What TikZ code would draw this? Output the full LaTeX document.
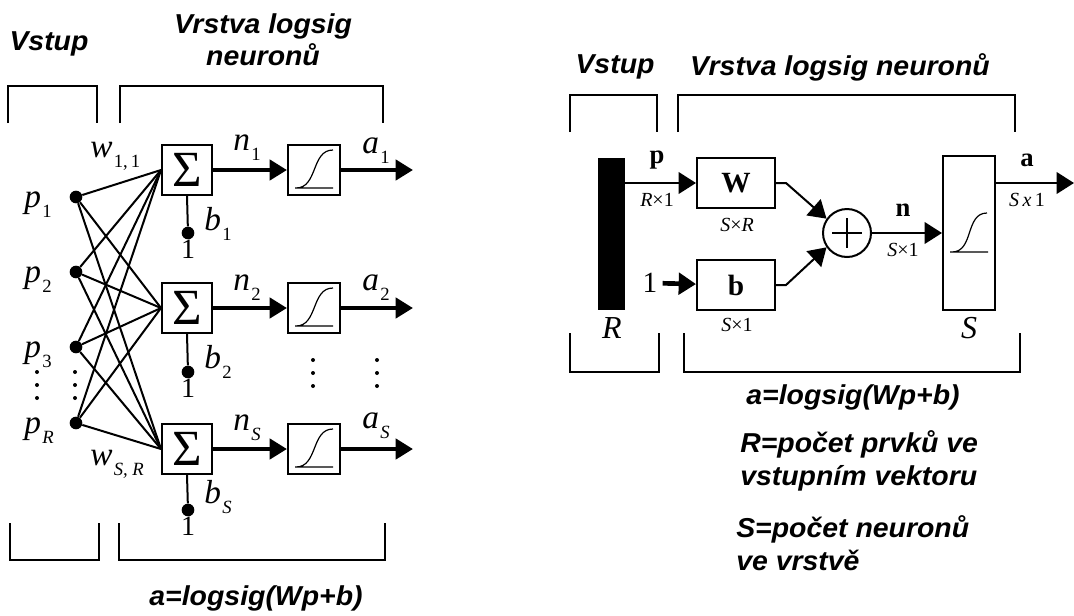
\documentclass[tikz,border=0pt]{standalone}
\usepackage{fontspec}
\setmainfont{Liberation Serif}
\newfontfamily\titlefont[FakeStretch=1.04]{Liberation Sans}
\usetikzlibrary{arrows.meta,positioning}

\newcommand\lsub[2]{\textit{#1}\kern1pt\raisebox{-8pt}{\fontsize{14}{14}\selectfont #2}}

\begin{document}
\begin{tikzpicture}[x=0.75pt, y=-0.75pt,
  title/.style={font=\titlefont\bfseries\itshape\fontsize{20.5}{24}\selectfont, align=center, inner sep=0},
  note/.style={font=\titlefont\bfseries\itshape\fontsize{20.5}{25}\selectfont, align=left, inner sep=0, anchor=west},
  lbl/.style={font=\fontsize{25}{25}\selectfont, inner sep=0, anchor=base west},
  bold/.style={font=\bfseries\fontsize{20}{20}\selectfont, inner sep=0},
  dim/.style={font=\fontsize{15}{15}\selectfont, inner sep=0},
  sumbox/.style={draw, line width=1.5pt, minimum size=37.5pt, inner sep=0, font=\fontsize{38}{38}\selectfont},
  tfbox/.style={draw, line width=1.5pt, minimum width=39pt, minimum height=37.5pt, inner sep=0},
  mbox/.style={draw, line width=1.5pt, minimum width=58.5pt, minimum height=37.5pt, inner sep=0},
  dot/.style={circle, fill, inner sep=0, minimum size=9.5pt},
  fan/.style={line width=1.5pt},
  brk/.style={line width=1.8pt},
  sig/.style={line width=3.5pt, -{Triangle[length=13pt, width=15pt]}},
  arr/.style={line width=2pt, -{Triangle[length=13pt, width=16pt]}},
  curve/.style={line width=0.9pt}
]
\useasboundingbox (0,0) rectangle (1074,615);

% ---- left: layer of logsig neurons
\node[title] (vstupL) at (49,44) {Vstup};
\node[title] (vrstvaL) at (263,40) {Vrstva logsig\\neuronů};
\draw[brk] (8,123) |- (97,86) -- (97,123);
\draw[brk] (120,123) |- (383,86) -- (383,123);
\draw[brk] (10,523) |- (99,560) -- (99,523);
\draw[brk] (119,523) |- (385,560) -- (385,523);
\node[title] (eqL) at (256,598) {a=logsig(Wp+b)};

\node[dot] (p1) at (76,197) {};
\node[dot] (p2) at (76,272) {};
\node[dot] (p3) at (76,347) {};
\node[dot] (pR) at (76,423) {};
\node[lbl] (lp1) at (24,207) {\lsub{p}{1}};
\node[lbl] (lp2) at (24,282) {\lsub{p}{2}};
\node[lbl] (lp3) at (24,357) {\lsub{p}{3}};
\node[lbl] (lpR) at (24,433) {\lsub{p}{\textit{R}}};
\node[lbl] (w11) at (90,157) {\lsub{w}{1,\,1}};
\node[lbl] (wSR) at (90,465) {\lsub{w}{\textit{S, R}}};

\node[sumbox] (sum1) at (187,170) {Σ};
\node[sumbox] (sum2) at (187,308) {Σ};
\node[sumbox] (sumS) at (187,449) {Σ};
\node[tfbox] (t1) at (314,170) {};
\node[tfbox] (t2) at (314,308) {};
\node[tfbox] (tS) at (314,449) {};
\coordinate (o1) at (413,170);
\coordinate (o2) at (413,308);
\coordinate (oS) at (413,449);

\foreach \i in {p1,p2,p3,pR}
  \foreach \j in {sum1,sum2,sumS}
    \draw[fan] (\i) -- (\j.west);

\foreach \j/\t/\o in {sum1/t1/o1,sum2/t2/o2,sumS/tS/oS} {
  \draw[sig] (\j) -- (\t);
  \draw[sig] (\t) -- (\o);
  \draw[curve] ([shift={(-19,18)}]\t.center) -- ([shift={(19,18)}]\t.center)
    ([shift={(-18,18)}]\t.center) .. controls +(22,0) and +(-22,0) .. ([shift={(19,-20)}]\t.center);
}

\node[dot] (b1) at (188,233) {};
\node[dot] (b2) at (188,372) {};
\node[dot] (bS) at (188,510) {};
\foreach \j/\b in {sum1/b1,sum2/b2,sumS/bS} {
  \draw[line width=1.5pt] (\j.south) -- (\b);
  \node[lbl, anchor=north, font=\fontsize{21}{21}\selectfont] at (\b.south) {1};
}
\node[lbl] (lb1) at (204,230) {\lsub{b}{1}};
\node[lbl] (lb2) at (204,368) {\lsub{b}{2}};
\node[lbl] (lbS) at (204,503) {\lsub{b}{\textit{S}}};

\node[lbl] (ln1) at (233,150) {\lsub{n}{1}};
\node[lbl] (ln2) at (233,290) {\lsub{n}{2}};
\node[lbl] (lnS) at (233,430) {\lsub{n}{\textit{S}}};
\node[lbl] (la1) at (362,153) {\lsub{a}{1}};
\node[lbl] (la2) at (362,290) {\lsub{a}{2}};
\node[lbl] (laS) at (362,428) {\lsub{a}{\textit{S}}};

\foreach \x in {37,75}
  \foreach \y in {372,385,398}
    \fill (\x,\y) circle (1.5pt);
\foreach \x in {313,377}
  \foreach \y in {360,373,386}
    \fill (\x,\y) circle (1.5pt);

% ---- right: matrix form
\node[title] (vstupR) at (615,67) {Vstup};
\node[title] (vrstvaR) at (840,67) {Vrstva logsig neuronů};
\draw[brk] (570,132) |- (657,95) -- (657,132);
\draw[brk] (678,132) |- (1015,95) -- (1015,132);
\draw[brk] (570,333) |- (659,372) -- (659,333);
\draw[brk] (684,333) |- (1020,372) -- (1020,333);

\node[fill=black, minimum width=20.25pt, minimum height=114pt, inner sep=0] (bar) at (611.5,234) {};
\node[mbox] (W) at (736,183) {\bfseries\fontsize{22}{22}\selectfont W};
\node[mbox] (B) at (736,285) {\bfseries\fontsize{22}{22}\selectfont b};
\node[circle, draw, line width=1.5pt, minimum size=36pt, inner sep=0] (plus) at (847,233) {};
\node[draw, line width=1.5pt, minimum width=39pt, minimum height=115pt, inner sep=0] (Sbox) at (969,233) {};
\node[font=\fontsize{22}{22}\selectfont, inner sep=0, outer sep=4pt] (one) at (650,283) {1};
\coordinate (aout) at (1074,183);

\draw[line width=1.5pt] (plus.center) +(-15,0) -- +(15,0) +(0,-15) -- +(0,15);
\draw[curve] ([shift={(-19,19)}]Sbox.center) -- ([shift={(19,19)}]Sbox.center)
  ([shift={(-17,19)}]Sbox.center) .. controls +(22,0) and +(-22,0) .. ([shift={(18,-20)}]Sbox.center);

\draw[arr] (bar.east |- W.west) -- (W.west);
\draw[arr, line width=3.5pt] (one) -- (B);
\draw[arr, line width=1.5pt] (W.east) -- ++(10,0) -- (plus.145);
\draw[arr, line width=1.5pt] (B.east) -- ++(10,0) -- (plus.215);
\draw[arr] (plus) -- (Sbox);
\draw[arr] (Sbox.east |- aout) -- (aout);

\node[bold] (lp) at (657,160) {p};
\node[dim] (lRx1) at (657,200) {\textit{R}×1};
\node[dim] (lSxR) at (737,225) {\textit{S}×\textit{R}};
\node[dim] (lSx1b) at (737,325) {\textit{S}×1};
\node[bold] (ln) at (903,210) {n};
\node[dim] (lSx1n) at (903,250) {\textit{S}×1};
\node[bold] (la) at (1027,160) {a};
\node[dim] (lSx1a) at (1027,200) {\textit{S\,x}\,1};
\node[font=\itshape\fontsize{24}{24}\selectfont, inner sep=0] (lR) at (612,328) {R};
\node[font=\itshape\fontsize{24}{24}\selectfont, inner sep=0] (lS) at (969,328) {S};

\node[title] (eqR) at (853,397) {a=logsig(Wp+b)};
\node[note] (defR) at (740,461) {R=počet prvků ve\\vstupním vektoru};
\node[note] (defS) at (736,543) {S=počet neuronů\\ve vrstvě};
\end{tikzpicture}
\end{document}
